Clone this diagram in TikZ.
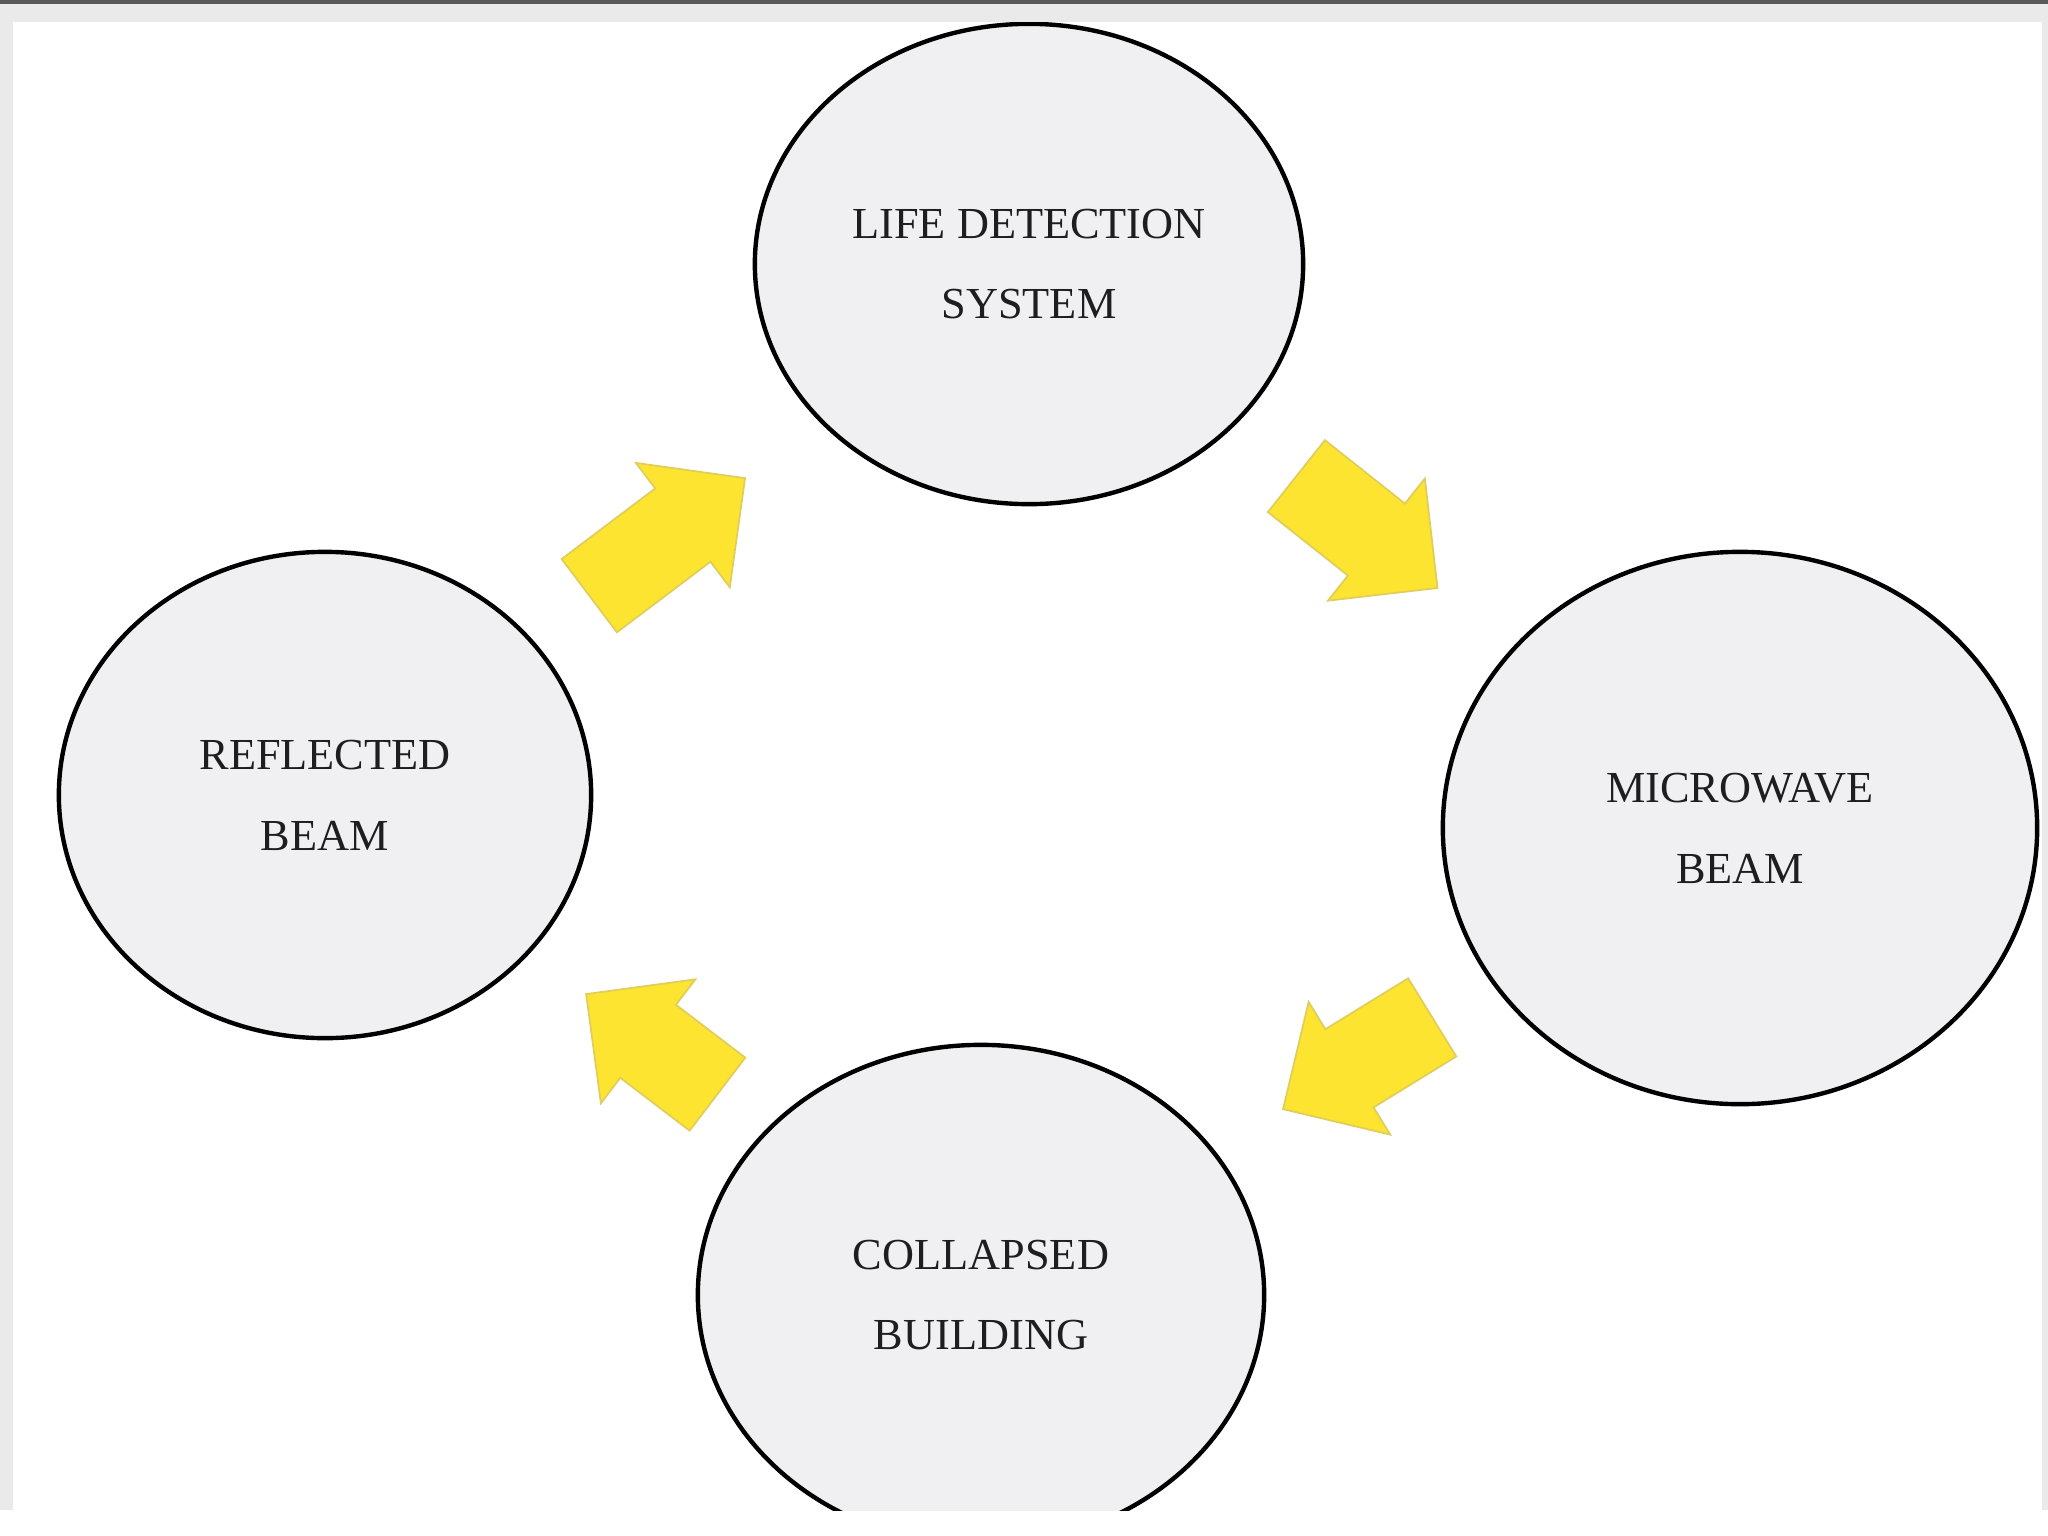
\documentclass[tikz,border=0pt]{standalone}
\usepackage{fontspec}
\setmainfont{Liberation Serif}
\usetikzlibrary{shapes.geometric, shapes.arrows}

\definecolor{cyclefill}{RGB}{240,240,242}
\definecolor{arrowyellow}{RGB}{252,228,48}
\definecolor{arrowrim}{RGB}{224,206,92}
\definecolor{framegray}{RGB}{234,234,234}
\definecolor{labelgray}{RGB}{30,30,30}

\begin{document}
\begin{tikzpicture}[
    x=0.01cm, y=-0.01cm,
    stage/.style={
        ellipse,
        draw=black,
        line width=1.25pt,
        fill=cyclefill,
        align=center,
        inner sep=0pt,
        text=labelgray,
        font=\fontsize{12.6pt}{23pt}\selectfont
    },
    flow/.style={
        single arrow,
        fill=arrowyellow,
        draw=arrowrim,
        line width=0.5pt,
        minimum height=1.8cm,
        inner xsep=0pt,
        inner ysep=0.45cm,
        single arrow head extend=0.32cm,
        single arrow head indent=0pt,
        sloped,
        allow upside down
    }
]
% page and frame
\useasboundingbox (0,0) rectangle (2048,1536);
\fill[white] (0,0) rectangle (2048,1536);
\fill[framegray] (0,0) rectangle (2048,1510);
\fill[black!65] (0,0) rectangle (2048,4);
\fill[white] (13,22) rectangle (2042,1510);

% the four stages
\begin{scope}
\clip (13,22) rectangle (2042,1510);
\node[stage, minimum width=5.48cm, minimum height=4.80cm] (life) at (1029,264) {LIFE DETECTION\\SYSTEM};
\node[stage, minimum width=5.32cm, minimum height=4.86cm] (reflected) at (325,795) {REFLECTED\\BEAM};
\node[stage, minimum width=5.94cm, minimum height=5.52cm] (microwave) at (1740,828) {MICROWAVE\\BEAM};
\node[stage, minimum width=5.66cm, minimum height=5.00cm] (collapsed) at (981,1295) {COLLAPSED\\BUILDING};
\end{scope}

% block arrows between them
\path (reflected.center) -- node[flow, pos=0.46, minimum height=1.95cm] (toLife) {} (life.center);
\path (life.center) -- node[flow, pos=0.45] (toMicrowave) {} (microwave.center);
\path (microwave.center) -- node[flow, pos=0.478, minimum height=1.75cm] (toCollapsed) {} (collapsed.center);
\path (collapsed.center) -- node[flow, pos=0.474, minimum height=1.65cm] (toReflected) {} (reflected.center);
\end{tikzpicture}
\end{document}
